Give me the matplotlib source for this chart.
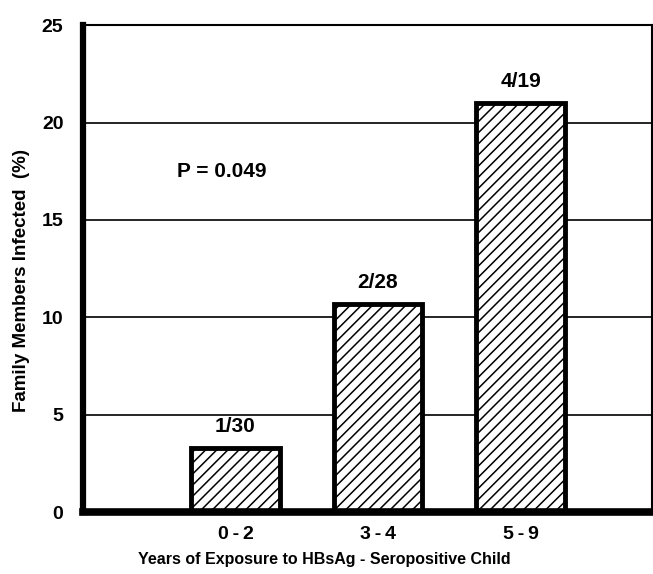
import matplotlib.pyplot as plt

plt.rcParams['font.family'] = ['Liberation Sans Narrow', 'Liberation Sans', 'DejaVu Sans']
plt.rcParams['font.weight'] = 'bold'
plt.rcParams['hatch.linewidth'] = 1.1

groups = ["0\u2009-\u20092", "3\u2009-\u20094", "5\u2009-\u20099"]
infected = [3.3, 10.7, 21.0]
fractions = ["1/30", "2/28", "4/19"]
yticks = [0, 5, 10, 15, 20, 25]

fig = plt.figure(figsize=(6.53, 5.74), dpi=100)
ax = fig.add_axes([0.127, 0.108, 0.871, 0.848])

xs = list(range(len(groups)))

# horizontal reference lines sit behind the bars
for y in yticks[1:-1]:
    ax.axhline(y, color="black", lw=1.2, zorder=1)

ax.bar(xs, infected, width=0.62, facecolor="white", edgecolor="black",
       linewidth=3.5, hatch="///", zorder=2)

for x, h, lab in zip(xs, infected, fractions):
    ax.text(x, h + 0.6, lab, ha="center", va="bottom", fontsize=15, fontweight="bold")

ax.text(-0.41, 17.5, "P = 0.049", ha="left", va="center", fontsize=15, fontweight="bold")

ax.set_xlim(-1.07, 2.92)
ax.set_ylim(0, 25)
ax.set_yticks(yticks)
ax.set_xticks(xs)
ax.set_xticklabels(groups)
ax.tick_params(length=0, labelsize=14, pad=14)
ax.tick_params(axis="x", pad=10)
for lab in ax.get_xticklabels() + ax.get_yticklabels():
    lab.set_fontweight("bold")

ax.spines["left"].set_linewidth(4.5)
ax.spines["bottom"].set_linewidth(5.5)
ax.spines["top"].set_linewidth(1.5)
ax.spines["right"].set_linewidth(1.5)

ax.set_ylabel("Family Members Infected  (%)", fontsize=13.5, fontweight="bold")
ax.yaxis.set_label_coords(-0.093, 0.476)
ax.set_xlabel("Years of Exposure to HBsAg - Seropositive Child", fontsize=11.5,
              fontweight="bold")
ax.xaxis.set_label_coords(0.425, -0.083)

fig.savefig("out.png", dpi=100)
